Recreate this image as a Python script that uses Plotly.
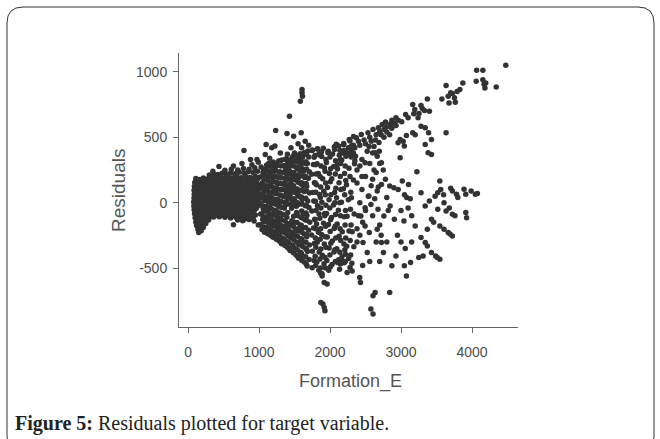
import plotly.graph_objects as go

# ---------------- data ----------------
# dense core of the cloud (Formation_E, Residuals)
core_pts = [
    [110,185],[160,178],[215,188],[270,182],[330,190],[390,185],[450,192],[505,186],[565,195],[620,188],[690,196],[750,190],[820,198],[880,192],[950,200],
    [95,155],[140,150],[195,158],[250,152],[305,160],[360,154],[420,157],[480,150],[540,160],[600,155],[660,152],[720,158],[780,150],[840,160],[900,155],[960,150],
    [90,125],[135,120],[190,128],[240,122],[295,126],[350,120],[405,127],[460,121],[520,128],[580,123],[640,126],[700,120],[760,128],[820,122],[880,126],[940,121],[995,127],
    [85,95],[130,92],[180,98],[235,90],[290,96],[345,92],[400,99],[455,93],[515,97],[575,90],[635,96],[695,92],[755,98],[815,91],[875,97],[935,92],[990,98],
    [88,65],[132,60],[185,68],[238,62],[292,66],[348,61],[402,67],[458,60],[518,66],[578,62],[638,68],[698,61],[758,66],[818,60],[878,67],[938,62],[998,66],
    [84,35],[128,30],[182,38],[236,32],[290,36],[344,31],[398,37],[452,30],[512,36],[572,32],[632,38],[692,31],[752,36],[812,30],[872,37],[932,32],[992,36],
    [80,5],[125,0],[178,8],[232,2],[286,6],[340,1],[395,7],[450,0],[508,6],[568,2],[628,8],[688,1],[748,6],[808,0],[868,7],[928,2],[988,6],
    [82,-25],[127,-30],[180,-22],[234,-28],[288,-24],[342,-29],[396,-23],[452,-30],[510,-24],[570,-28],[630,-22],[690,-29],[750,-24],[810,-30],[870,-23],[930,-28],[990,-24],
    [86,-55],[130,-60],[184,-52],[238,-58],[292,-54],[346,-59],[400,-53],[456,-60],[514,-54],[574,-58],[634,-52],[694,-59],[754,-54],[814,-60],[874,-53],[934,-58],
    [92,-85],[135,-90],[188,-82],[242,-88],[296,-84],[350,-89],[404,-83],[460,-90],[520,-84],[580,-88],[640,-82],[700,-89],[760,-84],[820,-90],[880,-85],[950,-95],
    [100,-115],[142,-120],[195,-112],[248,-118],[300,-114],[360,-110],[440,-108],[520,-112],[600,-118],[680,-115],[740,-120],[800,-125],[860,-128],[930,-140],[990,-170],
    [110,-148],[150,-150],[195,-143],[240,-138],[290,-132],[640,-168],
    [120,-175],[160,-178],[205,-168],[250,-160],
    [140,-205],[175,-200],[215,-190],
    [150,-228],[185,-215],
    [300,212],[360,220],[420,215],[480,225],[540,218],[600,228],[660,222],[720,232],[790,226],[850,236],[920,230],[980,240],
    [520,248],[610,255],[700,250],[780,262],[860,255],[940,268],
    [436,276],[350,240],[640,280],[760,300],[900,290],[990,310],
]

# further points filling the dense core
core_fill_pts = [
    [125,170],[185,168],[240,172],[300,170],[360,168],[420,172],[478,170],[535,174],[592,170],[655,176],[720,172],[785,178],[850,175],[915,180],[975,178],
    [112,140],[168,138],[222,142],[278,139],[332,141],[390,138],[450,142],[510,139],[570,141],[630,138],[690,142],[750,139],[810,141],[870,138],[930,142],[985,139],
    [108,110],[160,107],[212,112],[266,108],[320,111],[375,107],[432,112],[490,108],[548,111],[608,107],[668,112],[728,108],[788,111],[848,107],[908,112],[968,108],
    [106,80],[158,77],[208,82],[262,78],[318,81],[372,77],[428,82],[486,78],[546,81],[606,77],[666,82],[726,78],[786,81],[846,77],[906,82],[966,78],
    [104,50],[155,47],[210,52],[264,48],[320,51],[374,47],[430,52],[488,48],[548,51],[608,47],[668,52],[728,48],[788,51],[848,47],[908,52],[968,48],
    [102,20],[152,17],[206,22],[260,18],[314,21],[368,17],[424,22],[480,18],[540,21],[600,17],[660,22],[720,18],[780,21],[840,17],[900,22],[960,18],
    [100,-10],[152,-13],[206,-8],[260,-12],[314,-9],[368,-13],[424,-8],[480,-12],[540,-9],[600,-13],[660,-8],[720,-12],[780,-9],[840,-13],[900,-8],[960,-12],
    [104,-40],[156,-43],[210,-38],[264,-42],[318,-39],[372,-43],[428,-38],[484,-42],[544,-39],[604,-43],[664,-38],[724,-42],[784,-39],[844,-43],[904,-38],[962,-42],
    [108,-70],[160,-73],[214,-68],[268,-72],[322,-69],[376,-73],[432,-68],[490,-72],[550,-69],[610,-73],[670,-68],[730,-72],[790,-69],[850,-73],[910,-70],
    [115,-100],[166,-103],[220,-98],[274,-102],[330,-99],[390,-97],[470,-98],[550,-100],[630,-102],[710,-103],[780,-108],[850,-110],[920,-118],
    [125,-130],[172,-133],[220,-128],[265,-125],[700,-132],[770,-138],
]

# semi-dense band between 1000 and 1700
mid_pts = [
    [1042,-205],[1018,-168],[1051,-128],[1024,-86],[1060,-47],[1012,-3],[1038,37],[1055,72],[1021,118],[1047,152],[1015,197],[1058,233],[1030,272],
    [1078,-226],[1104,-190],[1082,-143],[1111,-108],[1069,-64],[1097,-29],[1115,17],[1073,51],[1102,97],[1086,131],[1113,177],[1075,211],[1095,257],[1108,288],
    [1162,-250],[1137,-203],[1171,-167],[1129,-121],[1158,-86],[1143,-41],[1176,-7],[1134,39],[1165,73],[1140,119],[1172,153],[1131,199],[1156,233],[1168,278],[1139,302],
    [1198,-265],[1226,-227],[1203,-179],[1232,-143],[1191,-95],[1219,-59],[1237,-11],[1195,25],[1224,73],[1207,109],[1235,157],[1193,193],[1216,241],[1229,277],[1201,312],
    [1284,-292],[1257,-243],[1291,-205],[1262,-155],[1279,-117],[1250,-67],[1288,-29],[1265,21],[1294,59],[1253,109],[1281,147],[1260,197],[1290,235],[1256,285],[1276,319],
    [1318,-315],[1345,-275],[1322,-223],[1351,-183],[1312,-131],[1340,-91],[1356,-39],[1315,7],[1343,47],[1327,99],[1354,139],[1310,191],[1337,231],[1349,283],[1321,327],
    [1402,-343],[1376,-291],[1409,-251],[1381,-199],[1398,-159],[1372,-17],[1407,29],[1385,69],[1411,121],[1369,161],[1396,213],[1378,253],[1405,305],[1383,337],
    [1438,-365],[1466,-323],[1443,-269],[1471,-227],[1432,-173],[1459,-43],[1475,11],[1436,53],[1462,107],[1447,149],[1470,203],[1430,245],[1455,299],[1468,345],
    [1522,-401],[1496,-345],[1528,-301],[1500,-245],[1518,-201],[1492,-147],[1526,-27],[1503,17],[1531,73],[1489,117],[1515,173],[1497,217],[1524,273],[1506,317],[1520,357],
    [1558,-425],[1586,-379],[1562,-321],[1590,-275],[1551,-217],[1579,-171],[1595,-113],[1555,-13],[1583,43],[1566,87],[1592,143],[1552,187],[1576,243],[1588,287],[1560,337],[1581,375],
    [1642,-455],[1616,-407],[1648,-347],[1621,-299],[1638,-239],[1612,-191],[1647,-131],[1625,-83],[1651,-23],[1609,25],[1636,85],[1618,133],[1644,193],[1627,241],[1650,301],[1614,347],[1640,383],
    [1678,-485],[1706,-435],[1682,-373],[1710,-323],[1671,-261],[1699,-211],[1715,-149],[1675,-99],[1703,-37],[1686,13],[1712,75],[1672,125],[1696,187],[1708,237],[1680,299],[1701,349],[1690,395],
    [1392,-112],[1405,-75],[1488,-104],[1462,-138],[1530,-75],
]

# further points filling the 1000-1700 band
mid_fill_pts = [
    [1063,-188],[1071,-147],[1057,-105],[1066,-66],[1052,-24],[1074,16],[1061,55],[1068,96],[1055,136],[1072,175],[1059,215],[1066,253],
    [1124,-238],[1118,-196],[1129,-154],[1121,-114],[1126,-74],[1117,-34],[1130,6],[1122,46],[1127,86],[1119,126],[1128,166],[1123,206],[1116,246],[1125,286],
    [1186,-257],[1179,-215],[1190,-173],[1182,-131],[1188,-89],[1176,-47],[1192,-5],[1183,37],[1187,79],[1178,121],[1191,163],[1184,205],[1180,247],[1189,290],
    [1244,-280],[1238,-235],[1249,-190],[1241,-147],[1246,-103],[1236,-60],[1251,-17],[1243,26],[1247,70],[1239,114],[1250,158],[1242,202],[1237,246],[1248,292],
    [1305,-303],[1298,-258],[1310,-212],[1301,-168],[1307,-123],[1296,-78],[1311,-34],[1303,10],[1308,55],[1299,100],[1312,145],[1304,190],[1297,235],[1309,280],[1302,320],
    [1364,-328],[1357,-280],[1369,-234],[1360,-188],[1366,-141],[1355,-40],[1370,6],[1362,52],[1367,98],[1358,144],[1371,190],[1363,236],[1356,282],[1368,330],
    [1425,-352],[1418,-305],[1430,-257],[1421,-210],[1427,-163],[1416,-10],[1431,38],[1423,86],[1428,134],[1419,182],[1432,230],[1424,278],[1417,326],
    [1484,-383],[1477,-333],[1489,-283],[1480,-233],[1486,-183],[1475,-20],[1490,30],[1482,80],[1487,130],[1478,180],[1491,230],[1483,280],[1476,330],[1488,360],
    [1545,-412],[1538,-360],[1550,-308],[1541,-256],[1547,-204],[1536,-152],[1551,-100],[1543,0],[1548,52],[1539,104],[1552,156],[1544,208],[1537,260],[1549,312],[1542,360],
    [1604,-442],[1597,-388],[1609,-334],[1600,-280],[1606,-226],[1595,-172],[1610,-118],[1602,-64],[1607,-10],[1598,44],[1611,98],[1603,152],[1596,206],[1608,260],[1601,314],[1605,365],
    [1665,-470],[1658,-414],[1670,-358],[1661,-302],[1667,-246],[1656,-190],[1671,-134],[1663,-78],[1668,-22],[1659,34],[1672,90],[1664,146],[1657,202],[1669,258],[1662,314],[1666,370],
]

# moderate-density zone between 1700 and 2350
fan_pts = [
    [1748,-497],[1775,-443],[1752,-372],[1779,-313],[1741,-247],[1768,-193],[1785,-127],[1744,-63],[1772,13],[1756,77],[1781,153],[1743,217],[1766,293],[1777,347],[1750,403],
    [1842,-517],[1815,-453],[1848,-377],[1820,-303],[1837,-227],[1811,-163],[1846,-87],[1824,-23],[1851,63],[1809,137],[1835,223],[1818,297],[1844,373],[1827,412],
    [1888,-543],[1916,-467],[1892,-403],[1920,-317],[1881,-243],[1909,-157],[1925,-83],[1885,3],[1912,87],[1896,183],[1921,267],[1883,353],[1906,417],
    [1982,-517],[1956,-443],[1988,-347],[1961,-263],[1978,-167],[1952,-83],[1987,23],[1965,117],[1991,223],[1949,307],[1975,393],
    [2028,-473],[2056,-377],[2032,-293],[2060,-197],[2021,-113],[2049,-17],[2065,77],[2025,183],[2052,277],[2036,373],[2061,427],
    [2122,-437],[2096,-353],[2128,-257],[2101,-163],[2118,-57],[2092,37],[2127,153],[2105,257],[2131,363],[2089,447],
    [2168,-413],[2196,-317],[2172,-223],[2200,-107],[2161,3],[2189,107],[2205,223],[2165,327],[2192,443],
    [2262,-427],[2236,-333],[2268,-217],[2241,-103],[2258,23],[2232,137],[2267,263],[2245,377],[2271,483],
    [2308,-463],[2336,-337],[2312,-223],[2340,-87],[2301,37],[2329,173],[2345,297],[2305,433],[2332,507],
]

# further points filling the 1700-2350 zone
fan_fill_pts = [
    [1797,-480],[1790,-410],[1801,-340],[1793,-270],[1799,-200],[1788,-130],[1803,-60],[1795,10],[1800,80],[1791,150],[1804,220],[1796,290],[1789,360],
    [1866,-500],[1859,-430],[1871,-355],[1862,-280],[1868,-200],[1857,-120],[1872,-40],[1864,40],[1869,120],[1860,200],[1873,280],[1865,360],
    [1936,-500],[1929,-420],[1941,-340],[1932,-260],[1938,-180],[1927,-100],[1942,-20],[1934,60],[1939,150],[1930,240],[1943,330],
    [2006,-490],[1999,-400],[2011,-310],[2002,-220],[2008,-130],[1997,-40],[2012,60],[2004,160],[2009,260],[2000,350],
    [2076,-450],[2069,-360],[2081,-270],[2072,-180],[2078,-90],[2067,0],[2082,110],[2074,220],[2079,320],
    [2146,-470],[2139,-380],[2151,-290],[2142,-200],[2148,-100],[2137,0],[2152,100],[2144,200],[2149,300],[2140,400],
    [2216,-450],[2209,-360],[2221,-270],[2212,-170],[2218,-60],[2207,60],[2222,170],[2214,280],[2219,390],
    [2291,-400],[2284,-290],[2296,-170],[2287,-50],[2293,80],[2282,200],[2297,350],
]

# upper diagonal band and top-right points
upper_pts = [
    [4476,1051],[4065,1013],[4153,1013],[4059,929],[4153,941],[4194,916],[4182,878],[4341,885],[4170,905],
    [3871,916],[3635,896],[3829,865],[3723,835],[3665,814],[3576,794],[3753,802],[3676,763],[3765,768],[3700,840],[3790,850],
    [3371,794],[3282,743],[3165,751],[3194,712],[3400,700],[3253,682],[3065,674],[3300,720],[3330,705],
    [2929,649],[2871,631],[2782,618],[2735,598],[2682,573],[2606,560],[2535,534],[2441,522],[2371,496],[2282,471],[2194,453],[2124,433],[2065,407],[1971,382],
    [2900,610],[2960,630],[2850,600],[2800,580],[2760,560],[2700,540],[2650,520],[2560,500],[2480,480],[2400,470],[2330,440],[2260,420],[2200,400],
    [3388,534],[3429,483],[3341,573],[3282,585],[3165,534],[3076,514],[2988,483],[3047,433],[2959,458],[2988,344],[3382,382],[3429,369],[3341,445],[3635,534],[3030,470],[3200,520],
    [2694,394],[2635,382],[2665,356],[2724,305],[2494,305],[2524,394],[2359,356],[2224,356],[2147,331],[2106,293],[2600,380],[2560,300],[2450,330],[2420,280],[2380,250],
    [2300,400],[2350,420],[2420,440],[2500,450],[2580,470],[2640,480],[2720,520],[2800,540],[2870,570],[2930,590],[3010,620],[3100,650],[3180,680],
    [3240,650],[2550,430],[2620,430],[2690,460],[2760,500],[2840,520],[2330,380],[2270,370],[2180,380],
]

# scattered points at the right side, around and below zero
lower_pts = [
    [3224,237],[3018,165],[3106,140],[2900,115],[2960,100],[3282,76],[3050,60],[3080,40],[3547,165],[3518,76],[3480,50],[3606,0],[3724,89],[3782,64],[3800,40],
    [3888,102],[3912,64],[3988,89],[4047,64],[4076,70],[3700,110],[3600,60],[3560,100],
    [3400,13],[3341,-25],[3518,-51],[3635,-64],[3680,-40],[3724,-89],[3760,-100],[3912,-76],[3924,-115],[3429,-127],[3460,-150],[3200,-178],[3371,-204],
    [3547,-178],[3606,-204],[3665,-229],[3724,-254],[3690,-240],[3282,-267],[3341,-305],[3371,-331],[3429,-382],[3488,-407],[3547,-433],[3510,-420],
    [3312,-407],[3135,-458],[3047,-483],[3076,-560],[2929,-407],[2871,-483],[2753,-382],[2724,-305],[2665,-204],[2700,-170],[2759,-102],[2676,-51],
    [2847,-25],[2906,-127],[3041,-140],[3000,-60],[2841,127],[2724,140],[2665,89],[2547,51],[2576,-13],[2494,-38],[2435,-102],[2494,-178],[2553,-229],
    [2465,-305],[2524,-382],[2418,-573],[2429,-611],[2635,-687],[2606,-712],[2841,-687],[2576,-814],[2606,-852],
    [1900,-776],[1929,-827],[1871,-763],[1918,-802],[1888,-560],[1918,-611],[1959,-623],[1870,-540],[2282,-496],[2241,-534],[2312,-522],[2135,-509],
    [2106,-458],[2218,-394],[2159,-433],[2200,-460],[2380,-200],[2400,-100],[2420,0],[2450,100],[2380,150],[2500,200],[2600,180],[2650,230],[2780,180],
    [2800,40],[2820,-60],[3150,-100],[3100,-40],[3130,30],[2950,-250],[3000,-300],[3060,-350],[3150,-300],[3250,-420],[2560,-450],[2460,-480],[2700,-450],[2800,-300],
    [2380,-300],[2420,-250],[2460,-150],[2500,-60],[2540,50],[2580,130],[2620,250],[2450,200],[2350,320],[2700,300],[2750,250],[2680,120],[2630,30],[2600,-100],[2650,-300],[2720,-250],
]

# isolated points above the cloud on the left
outlier_pts = [
    [1606,865],[1606,840],[1612,814],[1582,776],[1429,662],[1235,552],[1394,529],[1488,509],[1594,534],[1100,445],[1224,433],[788,399],[971,331],
    [1088,369],[1180,420],[1300,380],[1450,420],[1550,450],[1500,380],[1600,420],[1700,440],[1750,400],[1820,410],[1880,390],[1650,470],[1400,370],[880,330],[1150,340],
]

x_tick_vals = [0, 1000, 2000, 3000, 4000]
x_tick_text = ["0", "1000", "2000", "3000", "4000"]
y_tick_vals = [-500, 0, 500, 1000]
y_tick_text = ["-500", "0", "500", "1000"]

all_pts = (core_pts + core_fill_pts + mid_pts + mid_fill_pts + fan_pts + fan_fill_pts
           + upper_pts + lower_pts + outlier_pts)
xs = [p[0] for p in all_pts]
ys = [p[1] for p in all_pts]

# ---------------- layout geometry (pixels) ----------------
W, H = 660, 439
L, R, T, B = 179, 518, 53, 327

def px(xp):
    return (xp - L) / (R - L)

def py(yp):
    return (B - yp) / (B - T)

SANS = "Liberation Sans, Arial, sans-serif"

fig = go.Figure()
fig.add_trace(go.Scatter(
    x=xs, y=ys, mode="markers",
    marker=dict(size=5.5, color="#333333", line=dict(width=0)),
    hoverinfo="skip", showlegend=False,
))

axis_common = dict(
    showgrid=False, zeroline=False, showline=True, linecolor="#666666", linewidth=1,
    ticks="outside", ticklen=5, tickcolor="#666666", tickwidth=1,
    tickfont=dict(family=SANS, size=14, color="#4d4d4d"),
)
fig.update_xaxes(range=[-127, 4648], tickvals=x_tick_vals, ticktext=x_tick_text,
                 ticklabelstandoff=7, **axis_common)
fig.update_yaxes(range=[-951, 1145], tickvals=y_tick_vals, ticktext=y_tick_text,
                 ticklabelstandoff=3, **axis_common)

# rounded frame
x0, y0, x1, y1, r = 7, 7, 654, 452, 16
path = (f"M {px(x0+r)},{py(y0)} L {px(x1-r)},{py(y0)} Q {px(x1)},{py(y0)} {px(x1)},{py(y0+r)} "
        f"L {px(x1)},{py(y1-r)} Q {px(x1)},{py(y1)} {px(x1-r)},{py(y1)} "
        f"L {px(x0+r)},{py(y1)} Q {px(x0)},{py(y1)} {px(x0)},{py(y1-r)} "
        f"L {px(x0)},{py(y0+r)} Q {px(x0)},{py(y0)} {px(x0+r)},{py(y0)} Z")
fig.add_shape(type="path", path=path, xref="paper", yref="paper",
              line=dict(color="#333333", width=1))

fig.add_annotation(text="Formation_E", xref="paper", yref="paper",
                   x=px(350), y=py(381), xanchor="center", yanchor="middle",
                   showarrow=False, font=dict(family=SANS, size=18, color="#555555"))
fig.add_annotation(text="Residuals", xref="paper", yref="paper", textangle=-90,
                   x=px(119), y=py(191), xanchor="center", yanchor="middle",
                   showarrow=False, font=dict(family=SANS, size=19, color="#555555"))
fig.add_annotation(text="<b>Figure 5:</b> Residuals plotted for target variable.",
                   xref="paper", yref="paper", x=px(13), y=py(423),
                   xanchor="left", yanchor="middle", showarrow=False,
                   font=dict(family="Liberation Serif, Times New Roman, serif", size=20, color="#222222"))

fig.update_layout(
    width=W, height=H,
    margin=dict(l=L, r=W - R, t=T, b=H - B, autoexpand=False),
    paper_bgcolor="white", plot_bgcolor="white",
)

fig.write_html("out.html", config={"displayModeBar": False},
               post_script="document.body.style.margin='0';document.body.style.overflow='hidden';")
